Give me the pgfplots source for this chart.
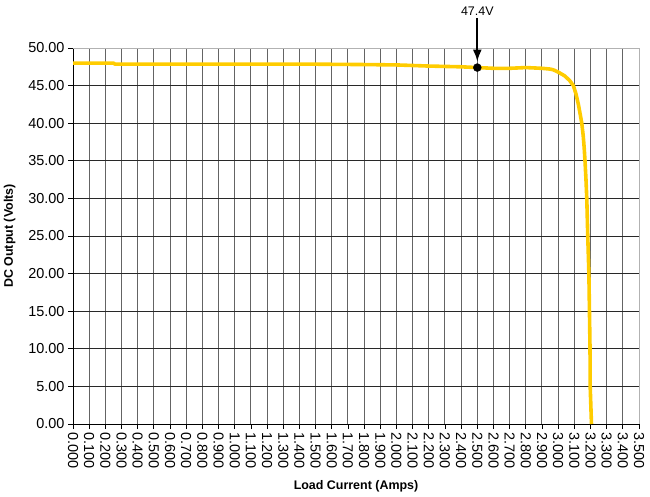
\documentclass[border=0pt]{standalone}
\usepackage{fontspec}
\setmainfont{Liberation Sans}
\usepackage{pgfplots}
\pgfplotsset{compat=1.18}
\usetikzlibrary{arrows.meta}
\definecolor{curve}{RGB}{255,204,0}
\definecolor{vgrid}{RGB}{100,100,100}
\definecolor{hgrid}{RGB}{40,40,40}
\begin{document}
\begin{tikzpicture}
\begin{axis}[
  scale only axis,
  width=566bp, height=376bp,
  xmin=0, xmax=3.5, ymin=0, ymax=50,
  xtick distance=0.1, ytick distance=5,
  /pgf/number format/assume math mode=true,
  xticklabel style={/pgf/number format/.cd,fixed,fixed zerofill,precision=3,/tikz/.cd,rotate=-90,anchor=west,font=\fontsize{14.5}{15}\selectfont},
  yticklabel style={/pgf/number format/.cd,fixed,fixed zerofill,precision=2,/tikz/.cd,font=\fontsize{14.5}{15}\selectfont},
  scaled x ticks=false,
  tick align=outside,
  major tick length=5bp,
  tick style={black,line width=0.8bp},
  xtick pos=bottom, ytick pos=left,
  grid=major,
  x grid style={vgrid,line width=1bp},
  y grid style={hgrid,line width=1bp},
  axis line style={line width=0.9bp},
  axis x line*=bottom, axis y line*=left,
  clip=false,
  xlabel={\bfseries Load Current (Amps)},
  ylabel={\bfseries DC Output (Volts)},
  label style={font=\fontsize{12.5}{13}\selectfont\bfseries},
  xlabel style={at={(axis description cs:0.5,-0.165)},anchor=center},
  ylabel style={at={(axis description cs:-0.112,0.5)},anchor=center},
]
\draw[gray!60,line width=0.9bp] (rel axis cs:0,1) -- (rel axis cs:1,1) -- (rel axis cs:1,0);
\addplot[curve, line width=3.6bp, line join=round] coordinates {
(0,48.0) (0.25,48.0) (0.26,47.85) (0.5,47.85) (1.0,47.85) (1.5,47.85)
(1.8,47.8) (2.0,47.75) (2.2,47.6) (2.4,47.5) (2.5,47.4) (2.6,47.3)
(2.7,47.3) (2.8,47.4) (2.9,47.3) (2.95,47.2) (2.97,47.1) (3.0,46.8)
(3.04,46.3) (3.07,45.7) (3.094,45.0) (3.11,43.9) (3.125,42.5) (3.137,41.1)
(3.146,40.0) (3.155,38.3) (3.161,36.7) (3.166,35.0) (3.172,32.5)
(3.177,30.0) (3.183,25.0) (3.19,20.0) (3.197,10.0) (3.198,5.0) (3.206,0)
};
\addplot[only marks, mark=*, mark size=4bp, black] coordinates {(2.5,47.4)};
\draw[-{Latex[length=12bp,width=9bp]}, line width=1.8bp] (axis cs:2.5,54.0) -- (axis cs:2.5,48.2);
\node[font=\fontsize{12.5}{13}\selectfont, anchor=south, inner sep=1bp] at (axis cs:2.5,54.2) {47.4V};
\coordinate (bl) at (rel axis cs:-0.129,-0.1915);
\coordinate (tr) at (rel axis cs:1.0194,1.1277);
\end{axis}
\pgfresetboundingbox
\path (bl) rectangle (tr);
\end{tikzpicture}
\end{document}
